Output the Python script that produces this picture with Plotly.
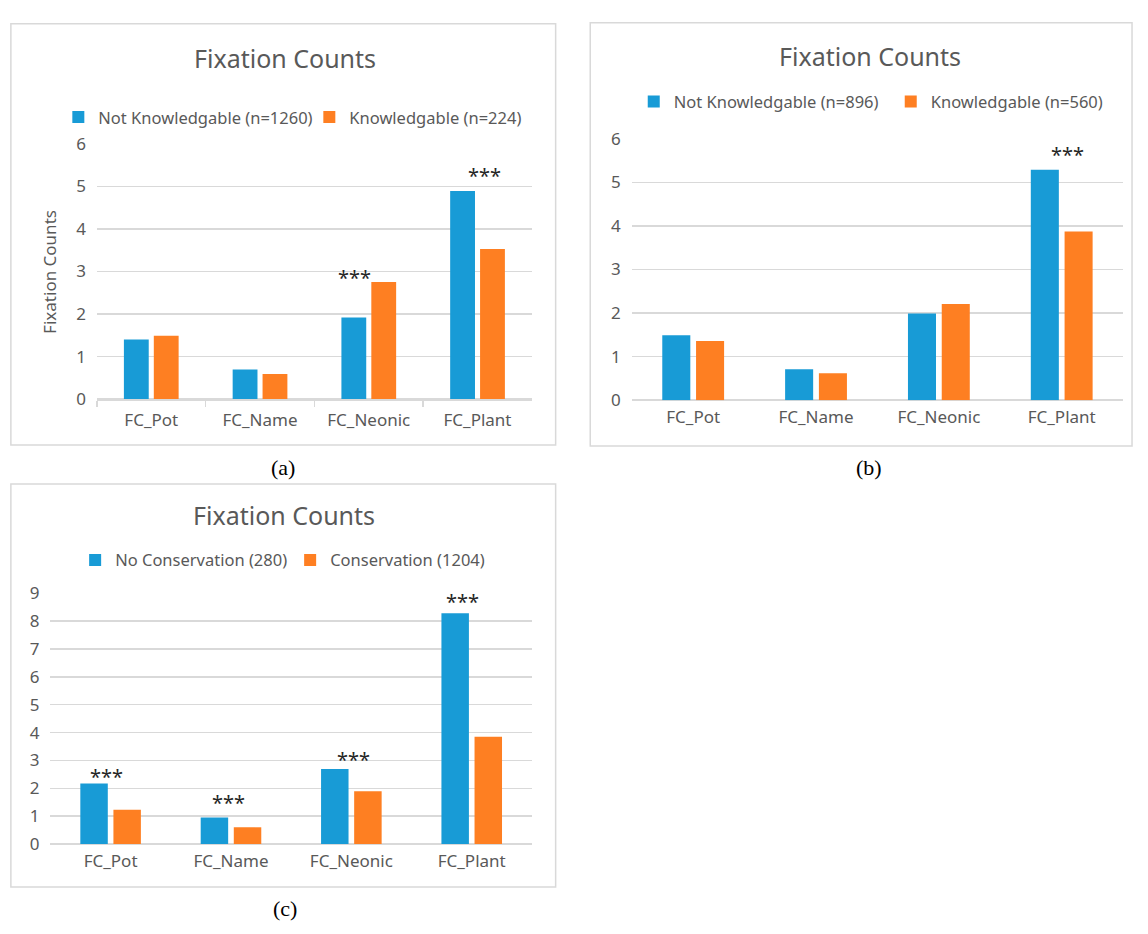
import plotly.graph_objects as go

W, H = 1148, 934

# ---------------- data ----------------
categories = ["FC_Pot", "FC_Name", "FC_Neonic", "FC_Plant"]

a_not_knowledgable = [1.40, 0.70, 1.92, 4.89]
a_knowledgable = [1.49, 0.59, 2.75, 3.53]

b_not_knowledgable = [1.49, 0.71, 1.99, 5.29]
b_knowledgable = [1.36, 0.62, 2.21, 3.87]

c_no_conservation = [2.17, 0.95, 2.69, 8.28]
c_conservation = [1.23, 0.60, 1.89, 3.85]

a_names = ["Not Knowledgable (n=1260)", "Knowledgable (n=224)"]
b_names = ["Not Knowledgable (n=896)", "Knowledgable (n=560)"]
c_names = ["No Conservation (280)", "Conservation (1204)"]

a_ticks = [0, 1, 2, 3, 4, 5, 6]
b_ticks = [0, 1, 2, 3, 4, 5, 6]
c_ticks = [0, 1, 2, 3, 4, 5, 6, 7, 8, 9]

# significance marks: (category index, height, offset within category)
a_sig = [(2, 2.95, -0.13), (3, 5.34, 0.06)]
b_sig = [(3, 5.74, 0.05)]
c_sig = [(0, 2.58, -0.03), (1, 1.65, -0.02), (2, 3.17, 0.02), (3, 8.84, -0.08)]

# ---------------- styling ----------------
BLUE = "#189BD6"
ORANGE = "#FE7F22"
GRID = "#D9D9D9"
TXT = "#595959"
FONT = "Noto Sans"


def px(x):
    return x / W


def py(y):
    return 1 - y / H


fig = go.Figure()

panels = [
    dict(sfx="", leg="legend", names=a_names, v=(a_not_knowledgable, a_knowledgable),
         ticks=a_ticks, top=6, xd=(98, 538), yd=(135, 397), sig=a_sig),
    dict(sfx="2", leg="legend2", names=b_names, v=(b_not_knowledgable, b_knowledgable),
         ticks=b_ticks, top=6, xd=(639, 1136), yd=(130, 398), sig=b_sig),
    dict(sfx="3", leg="legend3", names=c_names, v=(c_no_conservation, c_conservation),
         ticks=c_ticks, top=9, xd=(51, 538), yd=(596, 853), sig=c_sig),
]

annotations = []
for i, p in enumerate(panels):
    for name, vals, col in zip(p["names"], p["v"], (BLUE, ORANGE)):
        fig.add_trace(go.Bar(
            x=categories, y=vals, name=name,
            marker=dict(color=col, line=dict(width=0)),
            xaxis="x" + p["sfx"], yaxis="y" + p["sfx"], legend=p["leg"],
            hoverinfo="skip",
        ))
    xa = dict(
        domain=[px(p["xd"][0]), px(p["xd"][1])],
        anchor="y" + p["sfx"],
        type="category",
        tickfont=dict(family=FONT, size=17, color=TXT),
        showgrid=False, zeroline=False,
        ticklabelstandoff=5,
        fixedrange=True,
    )
    if i == 0:
        xa.update(showline=True, linecolor=GRID, linewidth=1.5, ticks="outside",
                  tickson="boundaries", ticklen=6, tickcolor=GRID, tickwidth=1.5)
    else:
        xa.update(showline=False, ticks="")
    ya = dict(
        domain=[py(p["yd"][1]), py(p["yd"][0])],
        anchor="x" + p["sfx"],
        range=[0, p["top"]],
        tickmode="array", tickvals=p["ticks"], ticktext=[str(t) for t in p["ticks"]],
        tickfont=dict(family=FONT, size=17, color=TXT),
        showgrid=True, gridcolor=GRID, gridwidth=1.5,
        zeroline=True, zerolinecolor=GRID, zerolinewidth=1.5,
        showline=False, ticks="",
        ticklabelstandoff=10,
        fixedrange=True,
    )
    fig.update_layout({"xaxis" + p["sfx"]: xa, "yaxis" + p["sfx"]: ya})
    for (ci, h, off) in p["sig"]:
        annotations.append(dict(
            x=ci + off, y=h, xref="x" + p["sfx"], yref="y" + p["sfx"],
            text="***", showarrow=False, xanchor="center", yanchor="middle",
            yshift=-4, font=dict(family=FONT, size=20, color="#262626"),
        ))

# panel frames
boxes = [(11, 12, 562, 444), (597, 11, 1145, 445), (11, 484, 562, 897)]
shapes = [dict(type="rect", xref="paper", yref="paper",
               x0=px(b[0]), x1=px(b[2]), y0=py(b[3]), y1=py(b[1]),
               line=dict(color=GRID, width=1.5), layer="below")
          for b in boxes]

# titles
for cx, cy in [(288, 47), (880, 45), (287, 516)]:
    annotations.append(dict(x=px(cx), y=py(cy), xref="paper", yref="paper",
                            text="Fixation Counts", showarrow=False,
                            xanchor="center", yanchor="middle",
                            font=dict(family=FONT, size=25, color=TXT)))
# y-axis title of panel (a)
annotations.append(dict(x=px(50), y=py(266), xref="paper", yref="paper",
                        text="Fixation Counts", showarrow=False, textangle=-90,
                        xanchor="center", yanchor="middle",
                        font=dict(family=FONT, size=17, color=TXT)))
# captions
for lab, cx, cy in [("(a)", 286, 467), ("(b)", 879, 467), ("(c)", 288, 919)]:
    annotations.append(dict(x=px(cx), y=py(cy), xref="paper", yref="paper",
                            text=lab, showarrow=False, xanchor="center", yanchor="middle",
                            font=dict(family="Liberation Serif", size=22, color="#000000")))

leg_common = dict(orientation="h", xanchor="left", yanchor="middle",
                  font=dict(family=FONT, size=16.5, color=TXT),
                  bgcolor="rgba(0,0,0,0)", itemwidth=30, itemclick=False,
                  itemdoubleclick=False, entrywidthmode="pixels", tracegroupgap=0)

fig.update_layout(
    width=W, height=H,
    margin=dict(l=0, r=0, t=0, b=0),
    paper_bgcolor="white", plot_bgcolor="rgba(0,0,0,0)",
    barmode="group", bargap=0.45, bargroupgap=0.17,
    showlegend=True,
    legend=dict(leg_common, x=px(59), y=py(108), entrywidth=206),
    legend2=dict(leg_common, x=px(641), y=py(92), entrywidth=212),
    legend3=dict(leg_common, x=px(76), y=py(562), entrywidth=170),
    shapes=shapes,
    annotations=annotations,
)

fig.write_html("out.html",
               config={"displayModeBar": False, "staticPlot": True},
               post_script="document.body.style.margin='0';document.body.style.overflow='hidden';")
